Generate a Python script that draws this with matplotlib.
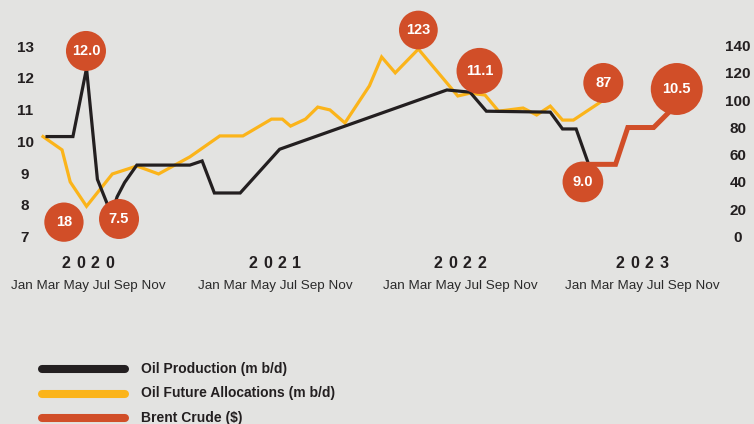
import matplotlib
matplotlib.use("Agg")
import matplotlib.pyplot as plt
from matplotlib.transforms import blended_transform_factory
from matplotlib.lines import Line2D

plt.rcParams['font.family'] = ['Liberation Sans', 'DejaVu Sans']

# months since Jan 2020
prod_x = [0.3, 2.2, 3.2, 4.0, 4.7, 5.0, 5.45, 6.0, 6.9, 10.8, 11.7, 12.6, 14.5, 17.4,
          29.7, 31.4, 32.6, 37.3, 38.2, 39.2, 40.1]
prod_y = [10.2, 10.2, 12.35, 8.85, 8.1, 7.7, 8.3, 8.75, 9.3, 9.3, 9.43, 8.42, 8.42, 9.8,
          11.67, 11.6, 11.0, 10.97, 10.44, 10.44, 9.35]

fut_x = [0, 1.4, 2.0, 3.2, 5.1, 6.9, 8.5, 10.8, 13.0, 14.7, 16.8, 17.6, 18.2, 19.3,
         20.2, 21.1, 22.2, 24.0, 24.9, 25.9, 27.6, 30.5, 31.4, 32.5, 33.5, 35.3,
         36.3, 37.3, 38.2, 39.0, 41.0]
fut_y = [10.2, 9.78, 8.77, 8.0, 9.02, 9.27, 9.02, 9.56, 10.22, 10.22, 10.75, 10.75,
         10.53, 10.75, 11.13, 11.04, 10.63, 11.8, 12.71, 12.21, 12.96, 11.48, 11.57,
         11.51, 11.0, 11.1, 10.88, 11.16, 10.72, 10.72, 11.29]

brent_x = [40.1, 42.1, 43.0, 44.9, 46.0, 46.3]
brent_y = [54, 54, 81, 81, 92, 98]

bubble_labels = ['12.0', '18', '7.5', '123', '11.1', '87', '9.0', '10.5']
bubble_x = [3.16, 1.54, 5.59, 27.6, 32.1, 41.2, 39.7, 46.6]
bubble_y = [12.9, 7.5, 7.6, 13.56, 12.27, 11.89, 8.77, 11.7]
bubble_size = [830, 800, 830, 780, 1100, 830, 860, 1400]

left_ticks = [7, 8, 9, 10, 11, 12, 13]
right_ticks = [0, 20, 40, 60, 80, 100, 120, 140]
years = ['2020', '2021', '2022', '2023']
months = 'Jan Mar May Jul Sep Nov'

BG = '#e3e3e1'
DARK = '#231f20'
GOLD = '#fbb41a'
RED = '#d14e28'

W, H = 754, 424
fig = plt.figure(figsize=(W / 100, H / 100), dpi=100, facecolor=BG)
ax = fig.add_axes([0, 0, 1, 1])
ax.set_xlim(-43 / 13.6, (W - 43) / 13.6)
ax.set_ylim(7 - (H - 238) / 31.7, 7 + 238 / 31.7)
ax.axis('off')
ax2 = ax.twinx()
ax2.set_ylim(-(H - 238) / 1.364, 238 / 1.364)
ax2.axis('off')

ax.plot(fut_x, fut_y, color=GOLD, lw=2.3, solid_joinstyle='miter', zorder=2)
ax.plot(prod_x, prod_y, color=DARK, lw=2.3, solid_joinstyle='miter', zorder=3)
ax2.plot(brent_x, brent_y, color=RED, lw=3.6, solid_joinstyle='miter', zorder=2)

ax2.scatter(bubble_x, bubble_y, s=bubble_size, color=RED, edgecolors='none',
            transform=ax.transData, zorder=5)
for lab, bx, by in zip(bubble_labels, bubble_x, bubble_y):
    ax2.text(bx, by, lab, transform=ax.transData, ha='center', va='center',
             color='white', fontsize=10.5, fontweight='bold', zorder=6)

tl = blended_transform_factory(ax.transAxes, ax.transData)
for v in left_ticks:
    ax.text(25 / W, v, str(v), transform=tl, ha='center', va='center',
            fontsize=11, fontweight='bold', color=DARK)
tr = blended_transform_factory(ax2.transAxes, ax2.transData)
for v in right_ticks:
    ax2.text(738 / W, v, str(v), transform=tr, ha='center', va='center',
             fontsize=11, fontweight='bold', color=DARK)

year_centers = [88, 275, 460, 642]
for yr, cx in zip(years, year_centers):
    for i, ch in enumerate(yr):
        fig.text((cx + (i - 1.5) * 14.5) / W, 1 - 264 / H, ch, ha='center', va='center',
                 fontsize=11.5, fontweight='bold', color=DARK)
    fig.text(cx / W, 1 - 286 / H, months, ha='center', va='center',
             fontsize=9.7, color='#2b2b2b')

legend_items = [('Oil Production (m b/d)', DARK), ('Oil Future Allocations (m b/d)', GOLD),
                ('Brent Crude ($)', RED)]
for k, (name, col) in enumerate(legend_items):
    yy = 1 - (369 + k * 24.5) / H
    fig.add_artist(Line2D([42 / W, 125 / W], [yy, yy], color=col, lw=5.8,
                          solid_capstyle='round'))
    fig.text(141 / W, yy, name, ha='left', va='center', fontsize=10,
             fontweight='bold', color=DARK)

fig.savefig('out.png', dpi=100, facecolor=BG)
